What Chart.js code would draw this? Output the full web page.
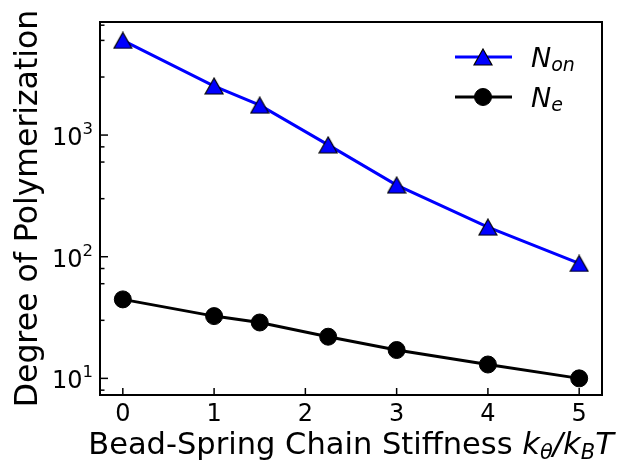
<!DOCTYPE html>
<html>
<head>
<meta charset="utf-8">
<script src="https://cdn.jsdelivr.net/npm/chart.js@4.4.1/dist/chart.umd.min.js"></script>
<style>
  html, body { margin:0; padding:0; background:#fff; }
  #wrap { width:623px; height:461px; position:relative; }
</style>
</head>
<body>
<div id="wrap"><canvas id="c"></canvas></div>
<script>
// === DATA ===
const stiffness = [0, 1, 1.5, 2.25, 3, 4, 5];
const nOn = [6000, 2530, 1760, 830, 388, 175, 88];
const nE  = [44.6, 32.5, 28.8, 22, 17.1, 13.0, 10];
const xTicks = [0, 1, 2, 3, 4, 5];
const yMajor = [10, 100, 1000];   // labelled 10^1, 10^2, 10^3
const yExp   = ['1', '2', '3'];

const FONT = "'DejaVu Sans', sans-serif";

// matplotlib-style '^' marker: centred on its bounding box
function triMarker(w, h, fill) {
  const c = document.createElement('canvas');
  c.width = w + 2; c.height = h + 2;
  const g = c.getContext('2d');
  g.beginPath();
  g.moveTo(1 + w / 2, 1); g.lineTo(1 + w, 1 + h); g.lineTo(1, 1 + h); g.closePath();
  g.fillStyle = fill; g.fill();
  g.lineWidth = 1.2; g.strokeStyle = '#000'; g.lineJoin = 'miter'; g.stroke();
  return c;
}
const tri = triMarker(18, 16, '#0000ff');

// minor log ticks between the axis limits
function logTicks(min, max) {
  const out = [];
  for (let e = 0; e <= 4; e++) {
    for (let m = 1; m <= 9; m++) {
      const v = m * Math.pow(10, e);
      if (v >= min && v <= max) out.push({value:v, major:m === 1});
    }
  }
  return out;
}

// text pieces in a row: [{t, italic, size, dy}]
function drawRuns(ctx, runs, x, y) {
  let cx = x;
  runs.forEach(r => {
    ctx.font = (r.italic ? 'italic ' : '') + r.size + 'px ' + FONT;
    ctx.fillText(r.t, cx, y + (r.dy || 0));
    cx += ctx.measureText(r.t).width;
  });
  return cx - x;
}
function runsWidth(ctx, runs) {
  let w = 0;
  runs.forEach(r => {
    ctx.font = (r.italic ? 'italic ' : '') + r.size + 'px ' + FONT;
    w += ctx.measureText(r.t).width;
  });
  return w;
}

const mplAxes = {
  id:'mplAxes',
  afterDatasetsDraw(chart) {
    const {ctx, chartArea:a, scales:{x, y}} = chart;
    ctx.save();
    ctx.fillStyle = '#000';
    ctx.strokeStyle = '#000';

    // frame
    ctx.lineWidth = 2;
    ctx.strokeRect(a.left, a.top, a.right - a.left, a.bottom - a.top);

    // x ticks (inward) + labels
    ctx.lineWidth = 1.5;
    ctx.textAlign = 'left';
    ctx.textBaseline = 'alphabetic';
    xTicks.forEach(v => {
      const px = x.getPixelForValue(v);
      ctx.beginPath(); ctx.moveTo(px, a.bottom); ctx.lineTo(px, a.bottom - 7); ctx.stroke();
      ctx.font = '24px ' + FONT;
      const w = ctx.measureText(String(v)).width;
      ctx.fillText(String(v), px - w / 2, a.bottom + 26);
    });

    // y ticks (inward, major + minor)
    y.ticks.forEach(t => {
      const py = y.getPixelForValue(t.value);
      const len = t.major ? 8 : 4.5;
      ctx.beginPath(); ctx.moveTo(a.left, py); ctx.lineTo(a.left + len, py); ctx.stroke();
    });
    // y labels 10^n
    yMajor.forEach((v, i) => {
      const py = y.getPixelForValue(v);
      const runs = [{t:'10', size:24}, {t:yExp[i], size:16.5, dy:-11}];
      const w = runsWidth(ctx, runs);
      drawRuns(ctx, runs, a.left - 7 - w, py + 10);
    });

    // x title
    const xt = [
      {t:'Bead-Spring Chain Stiffness ', size:30.5},
      {t:'k', size:30.5, italic:true},
      {t:'θ', size:21, italic:true, dy:5},
      {t:'/', size:30.5, italic:true},
      {t:'k', size:30.5, italic:true},
      {t:'B', size:21, italic:true, dy:5},
      {t:'T', size:30.5, italic:true}
    ];
    const xw = runsWidth(ctx, xt);
    drawRuns(ctx, xt, (a.left + a.right) / 2 - xw / 2, 454);

    // y title
    ctx.save();
    ctx.translate(37, (a.top + a.bottom) / 2);
    ctx.rotate(-Math.PI / 2);
    ctx.textAlign = 'center';
    ctx.font = '31.5px ' + FONT;
    ctx.fillText('Degree of Polymerization', 0, 0);
    ctx.restore();

    // legend
    const legend = [
      {ds:0, y:57, name:'N', sub:'on'},
      {ds:1, y:97, name:'N', sub:'e'}
    ];
    legend.forEach(l => {
      const d = chart.data.datasets[l.ds];
      ctx.strokeStyle = d.borderColor;
      ctx.lineWidth = d.borderWidth;
      ctx.beginPath(); ctx.moveTo(455, l.y); ctx.lineTo(512, l.y); ctx.stroke();
      ctx.fillStyle = d.pointBackgroundColor;
      ctx.strokeStyle = '#000';
      ctx.lineWidth = 1;
      Chart.helpers.drawPoint(ctx, {pointStyle:d.pointStyle, radius:d.pointRadius, borderWidth:1}, 483, l.y);
      ctx.fillStyle = '#000';
      ctx.textAlign = 'left';
      drawRuns(ctx, [{t:l.name, size:27, italic:true}, {t:l.sub, size:19, italic:true, dy:4}], 531, l.y + 10);
    });

    ctx.restore();
  }
};

new Chart(document.getElementById('c'), {
  type:'line',
  data:{
    datasets:[
      {label:'N_on', data:stiffness.map((s, i) => ({x:s, y:nOn[i]})),
        borderColor:'#0000ff', borderWidth:3, pointStyle:tri,
        pointRadius:9, pointBackgroundColor:'#0000ff', pointBorderColor:'#000',
        pointBorderWidth:1, tension:0},
      {label:'N_e', data:stiffness.map((s, i) => ({x:s, y:nE[i]})),
        borderColor:'#000', borderWidth:3, pointStyle:'circle',
        pointRadius:8.5, pointBackgroundColor:'#000', pointBorderColor:'#000',
        pointBorderWidth:1, tension:0}
    ]
  },
  options:{
    responsive:true, maintainAspectRatio:false, animation:false,
    layout:{padding:{left:100, right:21, top:22, bottom:66}},
    plugins:{legend:{display:false}, tooltip:{enabled:false}},
    scales:{
      x:{type:'linear', min:-0.25, max:5.25, display:false,
        afterBuildTicks:s => { s.ticks = xTicks.map(v => ({value:v})); }},
      y:{type:'logarithmic', min:7.3, max:8500, display:false,
        afterBuildTicks:s => { s.ticks = logTicks(s.min, s.max); }}
    }
  },
  plugins:[mplAxes]
});
</script>
</body>
</html>
